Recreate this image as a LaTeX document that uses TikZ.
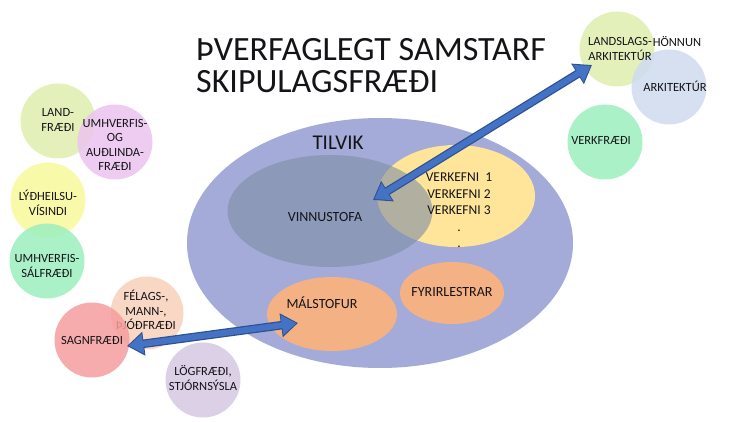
\documentclass[tikz,border=0pt]{standalone}
\usepackage{fontspec}
\setmainfont{Carlito}
\usetikzlibrary{shapes.geometric, arrows.meta}
\definecolor{tvouter}{HTML}{A4ABD8}
\definecolor{tvinner}{HTML}{7D8EA5}
\definecolor{tvyellow}{HTML}{FFE599}
\definecolor{tvsalmon}{HTML}{F4B183}
\definecolor{tvtext}{HTML}{141418}
\definecolor{arrblue}{HTML}{4472C4}
\definecolor{arredge}{HTML}{2F528F}
\definecolor{clime}{HTML}{E0EEAF}
\definecolor{cpink}{HTML}{ECC4EF}
\definecolor{cyellow}{HTML}{F9F99C}
\definecolor{cmint}{HTML}{9CEFBF}
\definecolor{cpeach}{HTML}{F8D1BB}
\definecolor{cred}{HTML}{F59E9E}
\definecolor{clav}{HTML}{D6C8E2}
\definecolor{cblue}{HTML}{CFDBEF}

\begin{document}
\begin{tikzpicture}[x=1pt, y=-1pt,
        circ/.style={circle, minimum size=75pt, inner sep=0pt, fill opacity=0.85},
        txt/.style={align=center, inner sep=0pt, text=tvtext, font=\fontsize{12.5}{14.5}\selectfont},
        intxt/.style={txt, font=\fontsize{14}{16.5}\selectfont},
        oval/.style={ellipse, inner sep=0pt},
        edgearrow/.style={line width=8.5pt, draw=arredge, {Triangle[length=17pt,width=23pt]}-{Triangle[length=17pt,width=23pt]}},
        fillarrow/.style={line width=6pt, draw=arrblue, shorten <=1.6pt, shorten >=1.6pt, {Triangle[length=14.5pt,width=19pt]}-{Triangle[length=14.5pt,width=19pt]}}]
      \useasboundingbox[fill=white] (0,0) rectangle (750,422);
      % title
      \node[anchor=west, align=left, inner sep=0pt, text=tvtext, font=\fontsize{34}{32}\selectfont] (title) at (196,66) {ÞVERFAGLEGT SAMSTARF\\SKIPULAGSFRÆÐI};
      % tilvik
      \node[oval, fill=tvouter, minimum width=386pt, minimum height=250pt] (tilvik) at (380,243) {};
      \node[oval, fill=tvyellow, minimum width=158pt, minimum height=102pt] (verk) at (456,196) {};
      \node[oval, fill=tvinner, fill opacity=0.6, minimum width=205pt, minimum height=112pt] (vinnu) at (330,211) {};
      \node[oval, fill=tvsalmon, minimum width=130pt, minimum height=74pt] (mal) at (332,314) {};
      \node[oval, fill=tvsalmon, minimum width=104pt, minimum height=62pt] (fyrir) at (452,293) {};
      \node[txt, font=\fontsize{21}{24}\selectfont] (tilviktxt) at (338,143) {TILVIK};
      \node[intxt] (vinnutxt) at (325,217) {VINNUSTOFA};
      \node[intxt, anchor=north, font=\fontsize{13.5}{16.5}\selectfont] (verktxt) at (459,173) {VERKEFNI\ \ 1\\VERKEFNI 2\\VERKEFNI 3\\.\\.};
      \node[intxt] (maltxt) at (322,303) {MÁLSTOFUR};
      \node[intxt] (fyrirtxt) at (452,292) {FYRIRLESTRAR};
      % greinar vinstra megin
      \node[circ, fill=clime] (land) at (58,121) {};
      \node[circ, fill=cpink] (umhv) at (115,142) {};
      \node[circ, fill=cyellow] (lydh) at (48,200) {};
      \node[circ, fill=cmint] (umsal) at (47,261) {};
      \node[circ, fill=cpeach, minimum size=73pt] (felags) at (147,313) {};
      \node[txt] (felagstxt) at (146,310) {FÉLAGS-,\\MANN-,\\ÞJÓÐFRÆÐI};
      \node[circ, fill=cred] (sagn) at (92,340) {};
      \node[circ, fill=clav] (log) at (203,380) {};
      \node[txt] (landtxt) at (58,120) {LAND-\\FRÆÐI};
      \node[txt] (umhvtxt) at (115,145) {UMHVERFIS-\\OG\\AUÐLINDA-\\FRÆÐI};
      \node[txt] (lydhtxt) at (48,203) {LÝÐHEILSU-\\VÍSINDI};
      \node[txt] (umsaltxt) at (47,266) {UMHVERFIS-\\SÁLFRÆÐI};
      \node[txt] (sagntxt) at (92,340) {SAGNFRÆÐI};
      \node[txt] (logtxt) at (203,378) {LÖGFRÆÐI,\\STJÓRNSÝSLA};
      % greinar haegra megin
      \node[circ, fill=clime] (lands) at (617,49) {};
      \node[circ, fill=cblue] (ark) at (669,87) {};
      \node[circ, fill=cmint] (verkf) at (605,142) {};
      \node[txt] (landstxt) at (620,49) {LANDSLAGS-\\ARKITEKTÚR};
      \node[txt] (honnun) at (677,42) {HÖNNUN};
      \node[txt] (arktxt) at (675,86) {ARKITEKTÚR};
      \node[txt] (verkftxt) at (601,140) {VERKFRÆÐI};
      % orvar
      \coordinate (a1) at (373,200);
      \coordinate (a2) at (592,65);
      \coordinate (b1) at (127,346);
      \coordinate (b2) at (298,323);
      \draw[edgearrow] (a1) -- (a2);
      \draw[fillarrow] (a1) -- (a2);
      \draw[edgearrow] (b1) -- (b2);
      \draw[fillarrow] (b1) -- (b2);
    \end{tikzpicture}
\end{document}
